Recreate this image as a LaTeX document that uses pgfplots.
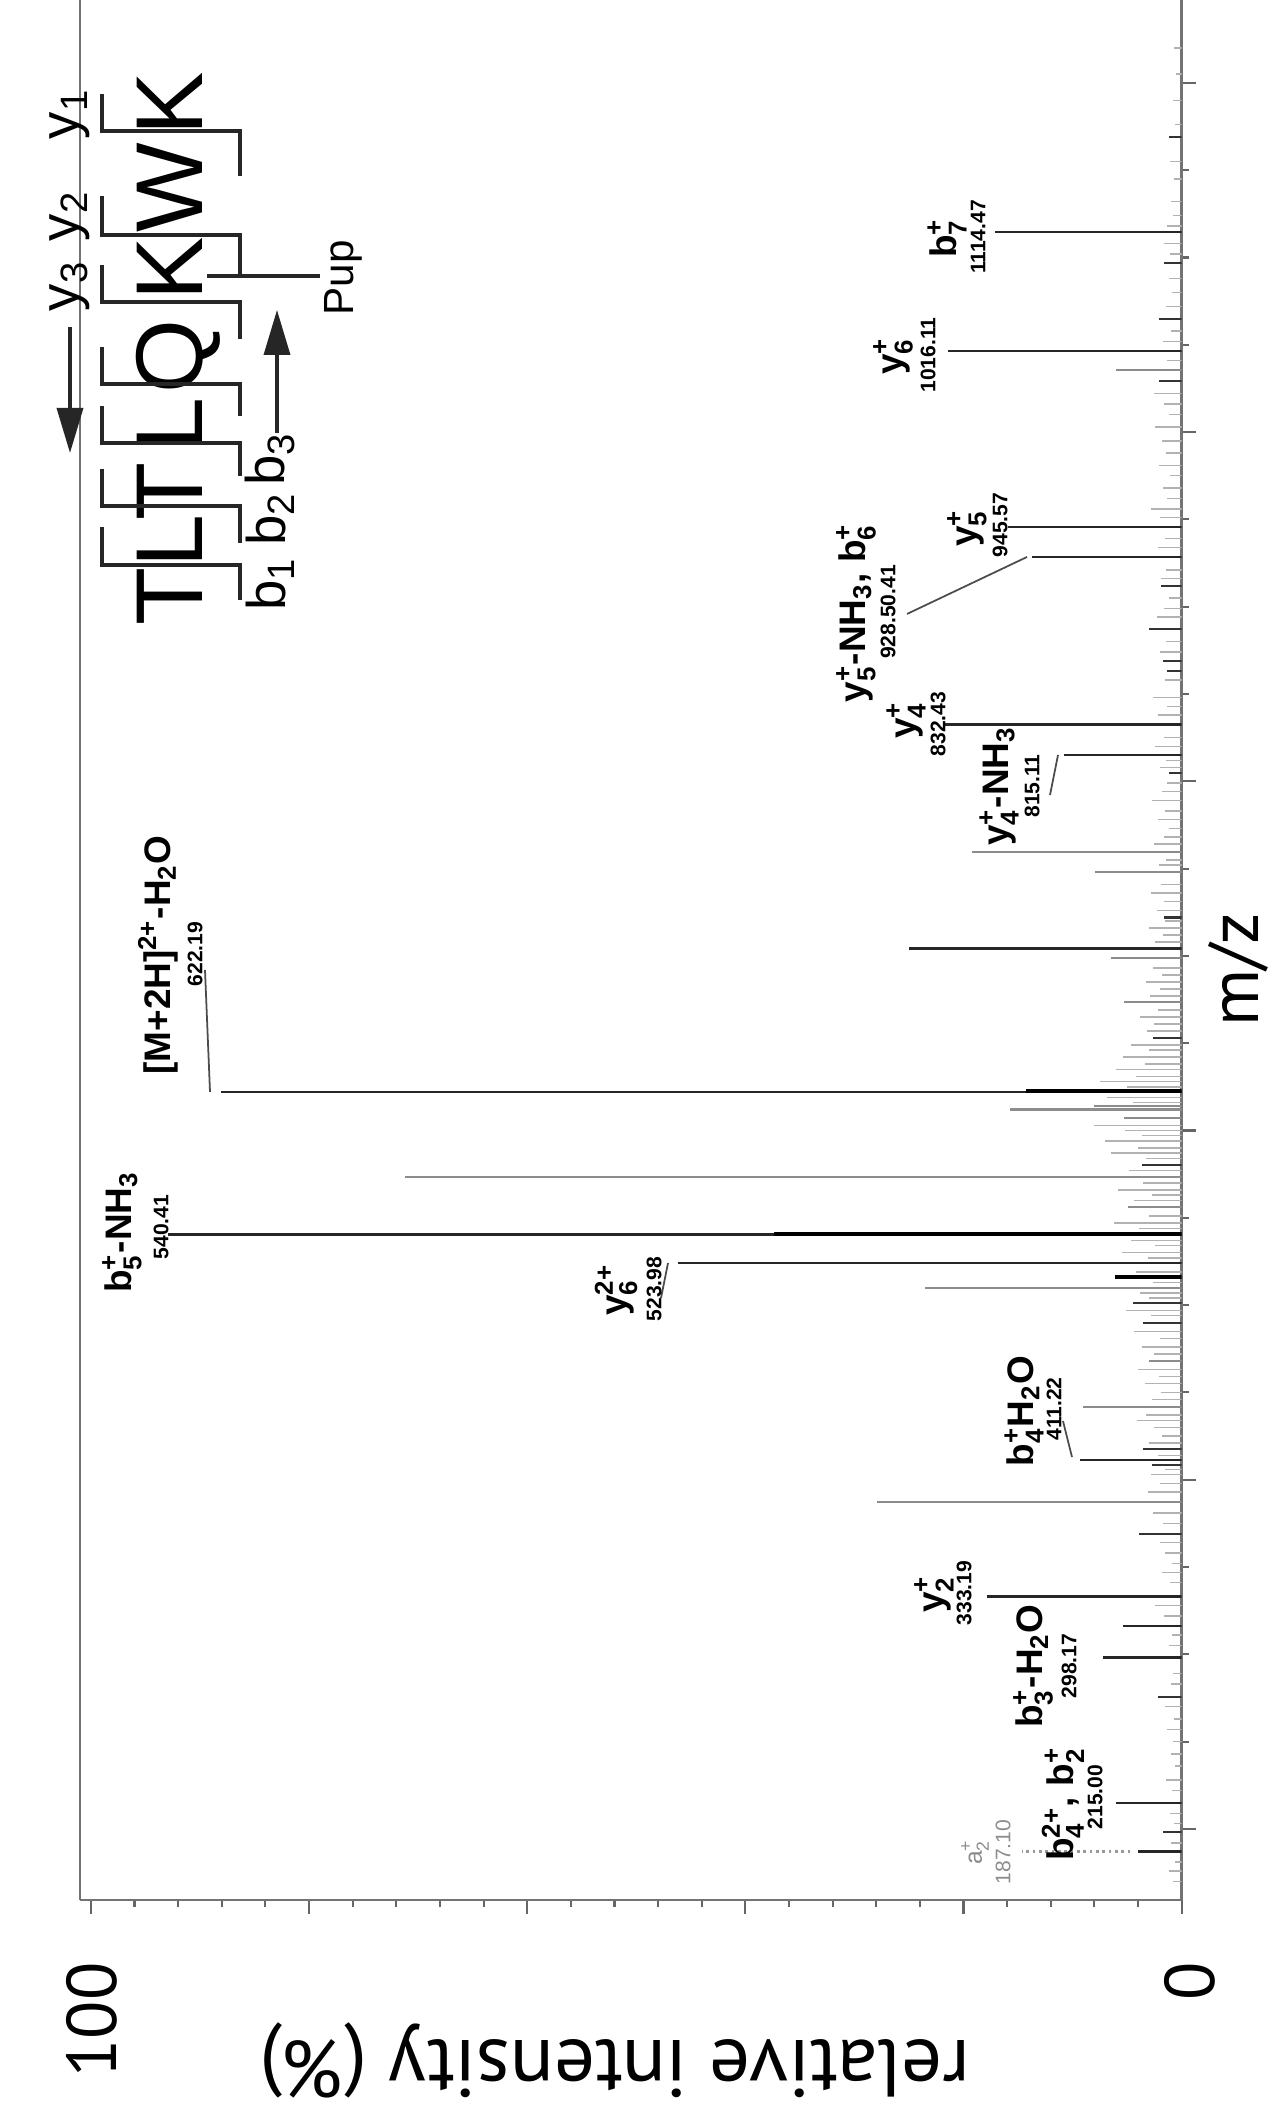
\documentclass[border=0pt]{standalone}
\usepackage{fontspec}
\usepackage{amsmath}
\usepackage{pgfplots}
\pgfplotsset{compat=1.18}
\usetikzlibrary{arrows.meta}
\setmainfont{Liberation Sans}
\newfontfamily\ptsans{PT Sans}
\newcommand{\sps}[2]{\ensuremath{{}_{\text{#1}}^{\text{#2}}}}
\newcommand{\lab}{\fontsize{10.5}{12}\selectfont\bfseries}
\newcommand{\num}{\fontsize{6}{7}\selectfont\bfseries}
\begin{document}
\begin{tikzpicture}
\begin{axis}[
  scale only axis, width=11.01cm, height=19cm,
  x dir=reverse, xmin=0, xmax=101, ymin=159.3, ymax=1248.1,
  axis x line*=bottom,
  axis line style={black!55, line width=0.8pt},
  xtick={0,20,...,100}, minor x tick num=4, xticklabels={},
  ytick={200,400,...,1200}, minor y tick num=3, yticklabels={},
  ytick pos=right,
  tick align=outside,
  major tick length=0.14cm, minor tick length=0.07cm,
  tick style={black!60, line width=0.6pt},
]
% noise
\addplot[xcomb, black!30, line width=0.4pt] coordinates {
(0.8,170) (1.2,176) (0.6,181) (1.0,192) (0.7,203) (1.1,209) (0.9,222) (1.4,228) (0.6,236) (1.0,243) (0.8,250) (1.3,257) (0.7,263) (1.5,270) (1.0,283) (0.8,289) (1.2,305) (0.9,311) (1.6,322) (2.4,328) (1.1,341) (1.8,347) (0.9,352) (1.5,358) (2.0,364) (1.7,375) (2.6,381) (3.1,393) (2.0,398) (2.8,403) (1.5,406) (2.2,414) (3.0,421) (1.8,425) (2.5,430) (4.1,434) (3.3,437) (2.7,446) (1.9,450) (3.4,455) (2.1,459) (4.0,463) (2.5,472) (3.6,476) (2.0,481) (4.4,485) (2.8,494) (5.1,497) (3.0,504) (3.8,507) (2.6,513) (4.2,519) (3.1,527) (5.5,530) (2.4,534) (4.6,537) (3.9,544) (6.2,547) (3.0,551) (4.4,560) (2.7,563) (5.8,566) (3.5,570) (4.8,577) (3.3,584) (6.5,587) (4.0,590) (7.0,594) (3.6,597) (5.2,600) (8.0,603) (4.5,616) (6.8,619) (5.0,625) (7.5,628) (4.2,631) (6.0,635) (3.4,638) (5.4,642) (3.0,646) (4.6,649) (3.2,657) (2.5,661) (3.8,665) (2.2,669) (2.9,677) (2.0,681) (3.3,685) (1.8,689) (2.6,693) (2.4,708) (1.7,712) (3.0,716) (1.5,720) (2.3,726) (1.6,731) (2.8,736) (1.9,741) (2.1,752) (1.4,755) (2.5,764) (1.6,768) (1.2,773) (2.2,778) (1.5,783) (2.7,789) (1.8,794) (1.3,799) (2.0,808) (1.4,812) (2.4,820) (1.6,825) (2.2,838) (1.3,843) (2.6,848) (1.5,858) (2.0,874) (1.4,880) (2.3,894) (1.6,899) (1.2,905) (1.9,916) (1.4,921) (2.2,934) (1.5,939) (2.0,951) (2.8,956) (1.3,962) (1.7,968) (1.1,975) (2.1,981) (1.4,988) (1.8,995) (2.4,1003) (1.2,1010) (1.6,1016) (2.5,1022) (1.3,1041) (1.7,1052) (1.0,1058) (1.4,1072) (0.9,1080) (1.2,1088) (1.1,1102) (1.6,1108) (1.3,1118) (0.8,1124) (1.0,1132) (0.7,1145) (1.1,1155) (0.6,1176) (0.8,1190) (0.5,1205) (0.7,1220)
};
% gray peaks
\addplot[xcomb, black!45, line width=0.6pt] coordinates {
(19.2,759.3) (7.9,747.8) (6.5,699) (5.3,673.4) (15.7,612) (8.0,614) (5.3,607) (71.2,573.6) (4.9,556.4) (23.5,510) (9.0,441.8) (27.9,387.4) (6.0,1035.8) (3.0,468)
};
% small dark peaks
\addplot[xcomb, black!80, line width=0.6pt] coordinates {
(1.2,1169) (1.6,1097) (2.1,1065) (2.1,1029) (1.9,911.7) (3.0,887) (1.7,869) (1.3,863) (1.2,805) (1.6,722) (2.6,653) (3.6,580) (4.5,501) (3.5,490) (3.5,417.8) (2.7,408.6) (3.9,369) (2.2,275.6) (1.7,198)
};
% main peaks
\addplot[xcomb, black!85, line width=0.7pt] coordinates {
(17.1,1114.47) (21.4,1046.4) (15.9,945.57) (13.7,928.50) (21.7,832.43) (10.8,815.11) (25.0,704.3) (88.1,622.19) (92.9,540.41) (46.2,523.98) (9.3,411.22) (17.8,333.19) (5.4,316.3) (7.2,298.17) (6.0,215.00) (4.0,187.10)
};
% thick overlapping peaks
\addplot[xcomb, black, line width=1.1pt] coordinates {
(37.4,540.9) (14.3,622.5) (6.1,516.3)
};
% a2 dotted extension
\addplot[black!40, densely dotted, line width=0.8pt] coordinates {(4.7,187.1) (14.6,187.1)};
\end{axis}
\begin{scope}[x=0.01cm, y=-0.01cm, shift={(-80,-1900)}]
% axis texts
\node[rotate=90, anchor=east, font=\ptsans\fontsize{20}{24}\selectfont] at (92,1950) {100};
\node[rotate=90, anchor=east, font=\ptsans\fontsize{20}{24}\selectfont] at (1190,1950) {0};
\node[rotate=180, font=\ptsans\fontsize{23}{28}\selectfont] at (615,2060) {relative intensity (\%)};
\node[rotate=90, anchor=base, font=\ptsans\fontsize{20}{24}\selectfont] at (1258,970) {m/z};
% leader lines
\draw[black!70, line width=0.5pt] (205,970) -- (210,1092);
\draw[black!70, line width=0.5pt] (668,1263) -- (661,1298);
\draw[black!70, line width=0.5pt] (907,614) -- (1027,557);
\draw[black!70, line width=0.5pt] (1050,795) -- (1058,755);
\draw[black!70, line width=0.5pt] (1063,1421) -- (1072,1457);
% peak labels
\node[rotate=90,font=\lab] at (947,238) {b\sps{7}{+}};
\node[rotate=90,font=\num] at (978,237) {1114.47};
\node[rotate=90,font=\lab] at (893,356) {y\sps{6}{+}};
\node[rotate=90,font=\num] at (928,355) {1016.11};
\node[rotate=90,font=\lab] at (967,528) {y\sps{5}{+}};
\node[rotate=90,font=\num] at (1000,525) {945.57};
\node[rotate=90,font=\lab] at (856,613) {y\sps{5}{+}-NH\textsubscript{3}, b\sps{6}{+}};
\node[rotate=90,font=\num] at (888,612) {928.50.41};
\node[rotate=90,font=\lab] at (906,720) {y\sps{4}{+}};
\node[rotate=90,font=\num] at (938,724) {832.43};
\node[rotate=90,font=\lab] at (999,786) {y\sps{4}{+}-NH\textsubscript{3}};
\node[rotate=90,font=\num] at (1032,786) {815.11};
\node[rotate=90,font=\lab] at (158,955) {[M+2H]\textsuperscript{2+}-H\textsubscript{2}O};
\node[rotate=90,font=\num] at (195,954) {622.19};
\node[rotate=90,font=\lab] at (122,1232) {b\sps{5}{+}-NH\textsubscript{3}};
\node[rotate=90,font=\num] at (161,1227) {540.41};
\node[rotate=90,font=\lab] at (616,1290) {y\sps{6}{2+}};
\node[rotate=90,font=\num] at (654,1289) {523.98};
\node[rotate=90,font=\lab] at (1024,1411) {b\sps{4}{+}H\textsubscript{2}O};
\node[rotate=90,font=\num] at (1054,1409) {411.22};
\node[rotate=90,font=\lab] at (934,1594) {y\sps{2}{+}};
\node[rotate=90,font=\num] at (964,1593) {333.19};
\node[rotate=90,font=\lab] at (1033,1666) {b\sps{3}{+}-H\textsubscript{2}O};
\node[rotate=90,font=\num] at (1069,1666) {298.17};
\node[rotate=90,font=\lab] at (1063,1804) {b\sps{4}{2+}, b\sps{2}{+}};
\node[rotate=90,font=\num] at (1095,1797) {215.00};
\node[rotate=90,font=\fontsize{7}{8}\selectfont, text=black!45] at (975,1852) {a\sps{2}{+}};
\node[rotate=90,font=\fontsize{6}{7}\selectfont, text=black!45] at (1003,1852) {187.10};
% sequence diagram
\begin{scope}[font=\fontsize{27}{30}\selectfont]
\node[rotate=90, anchor=base] at (202,597) {T};
\node[rotate=90, anchor=base] at (202,541) {L};
\node[rotate=90, anchor=base] at (202,492) {T};
\node[rotate=90, anchor=base] at (202,424) {L};
\node[rotate=90, anchor=base] at (202,357) {Q};
\node[rotate=90, anchor=base] at (202,269) {K};
\node[rotate=90, anchor=base] at (202,188) {W};
\node[rotate=90, anchor=base] at (202,104) {K};
\end{scope}
\begin{scope}[line width=1pt, black!85]
\draw (102,527) -- (102,565) -- (240,565) -- (240,600);
\draw (102,469) -- (102,506) -- (240,506) -- (240,543);
\draw (102,406) -- (102,443) -- (240,443) -- (240,476);
\draw (102,347) -- (102,384) -- (240,384) -- (240,416);
\draw (102,265) -- (102,302) -- (240,302) -- (240,339);
\draw (102,196) -- (102,235) -- (240,235) -- (240,276);
\draw (102,94) -- (102,131) -- (240,131) -- (240,176);
\draw (207,276) -- (320,276);
\draw[-{Triangle[length=4.5mm,width=2.6mm]}] (70,327) -- (70,453);
\draw[-{Triangle[length=4.5mm,width=2.6mm]}] (277,433) -- (277,310);
\end{scope}
\begin{scope}[font=\fontsize{15.5}{18}\selectfont]
\node[rotate=90] at (70,114) {y\textsubscript{1}};
\node[rotate=90] at (70,216) {y\textsubscript{2}};
\node[rotate=90] at (70,286) {y\textsubscript{3}};
\node[rotate=90] at (270,584) {b\textsubscript{1}};
\node[rotate=90] at (270,519) {b\textsubscript{2}};
\node[rotate=90] at (270,459) {b\textsubscript{3}};
\end{scope}
\node[rotate=90, font=\fontsize{12}{14}\selectfont] at (343,278) {Pup};
\pgfresetboundingbox
\path[use as bounding box] (0,0) rectangle (1277,2116);
\end{scope}
\end{tikzpicture}
\end{document}
